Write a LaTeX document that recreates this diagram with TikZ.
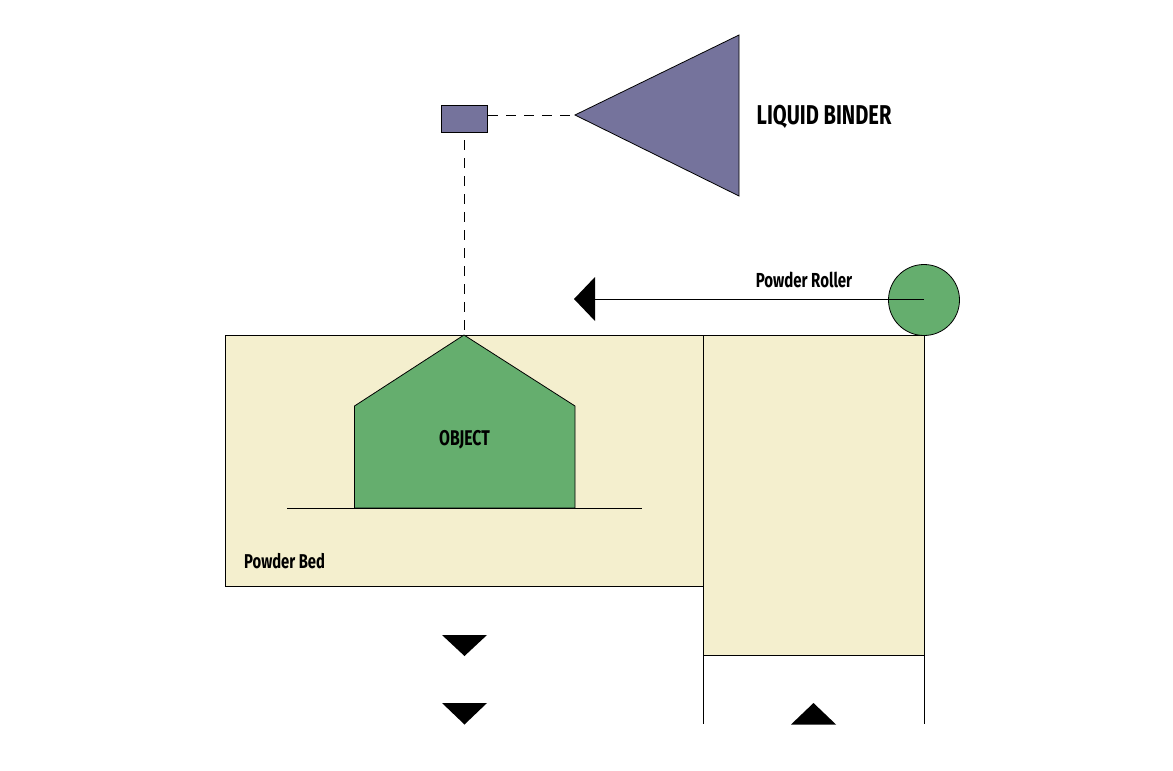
\documentclass[tikz,border=0pt]{standalone}
\usepackage{fontspec}
\newfontfamily\dinfont[FakeStretch=0.74,UprightFont=*-Bold,BoldFont=*-Bold]{Fira Sans}
\definecolor{binder}{HTML}{75739C}
\definecolor{objgreen}{HTML}{65AE6E}
\definecolor{powder}{HTML}{F4EFCE}
\tikzset{
  outline/.style={draw=black,line width=0.8pt,outer sep=0pt},
  dashline/.style={draw=black,line width=0.8pt,dash pattern=on 10pt off 8pt},
  tip/.style={fill=black,draw=none},
  label/.style={inner sep=0pt,text=black}
}
\begin{document}
\begin{tikzpicture}[x=1pt,y=-1pt]
\useasboundingbox (0,0) rectangle (1173,771);
% beds
\node[outline,fill=powder,minimum width=478pt,minimum height=251pt,inner sep=0pt,anchor=north west] (bed) at (225,335) {};
\node[outline,fill=powder,minimum width=221pt,minimum height=320pt,inner sep=0pt,anchor=north west] (feed) at (703,335) {};
% object
\coordinate (apex) at (464,335);
\draw[outline,fill=objgreen] (354.5,508) -- (354.5,406) -- (apex) -- (575,406) -- (575,508) -- cycle;
\coordinate (baseL) at (287,508);
\coordinate (baseR) at (641.5,508);
\draw[outline] (baseL) -- (baseR);
\node[label,font=\dinfont\fontsize{21.3}{23}\selectfont] (obj) at (464.5,439.5) {OBJECT};
\node[label,font=\dinfont\fontsize{20}{22}\selectfont,anchor=west] (bedlabel) at (244,561) {Powder Bed};
% print head and reservoir
\node[outline,fill=binder,minimum width=46.5pt,minimum height=27pt,inner sep=0pt] (head) at (464.3,118.5) {};
\coordinate (res) at (575,115);
\draw[outline,fill=binder] (res) -- (739,35) -- (739,196) -- cycle;
\coordinate (headR) at (488,115);
\draw[dashline] (headR) -- (res);
\coordinate (dropTop) at (464,140);
\draw[dashline] (dropTop) -- (apex);
\node[label,font=\dinfont\fontsize{27.2}{29}\selectfont,anchor=west] (binderlabel) at (756.5,116.5) {LIQUID BINDER};
% roller
\node[outline,fill=objgreen,circle,minimum size=71pt,inner sep=0pt] (roller) at (924,300) {};
\coordinate (rollerC) at (924,299);
\coordinate (arrowB) at (595,299);
\draw[outline] (rollerC) -- (arrowB);
\fill[tip] (574,299) -- (595,277) -- (595,321) -- cycle;
\node[label,font=\dinfont\fontsize{20.3}{22}\selectfont] (rollerlabel) at (804,280) {Powder Roller};
% lower walls
\coordinate (wallL) at (703,724);
\coordinate (wallR) at (924,724);
\draw[outline] (feed.south west) -- (wallL);
\draw[outline] (feed.south east) -- (wallR);
% direction tips
\fill[tip] (442,635) -- (487,635) -- (464.5,656) -- cycle;
\fill[tip] (442,703) -- (487,703) -- (464.5,724.5) -- cycle;
\fill[tip] (791,724.5) -- (836,724.5) -- (813.5,703) -- cycle;
\end{tikzpicture}
\end{document}
